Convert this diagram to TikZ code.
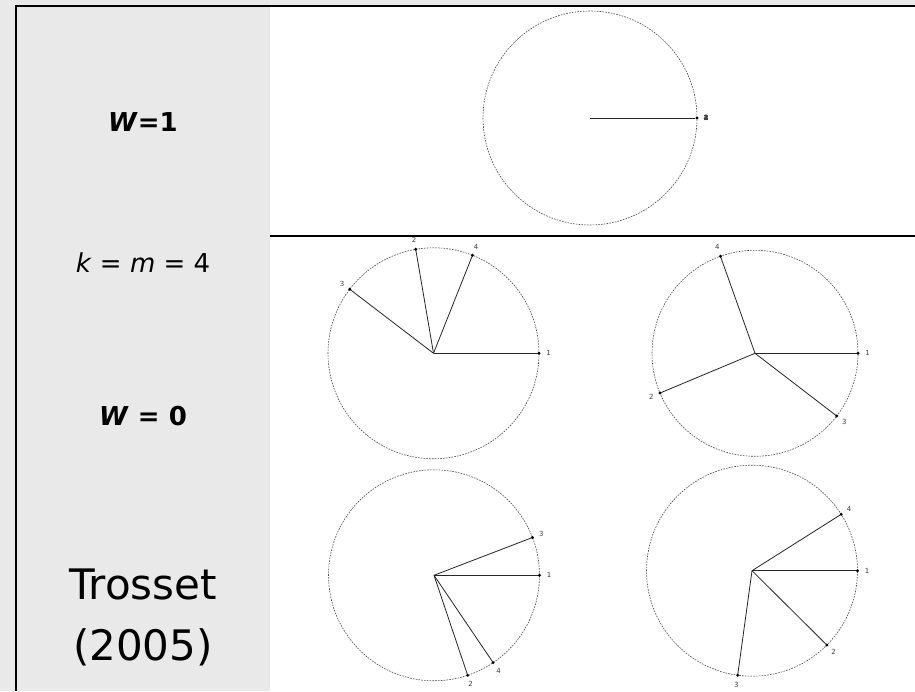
\documentclass[tikz,border=0pt]{standalone}
\usepackage{fontspec}
\setmainfont{DejaVu Sans}
\usepackage{xcolor}
\usepackage{tikz}
\usetikzlibrary{calc, positioning}
\definecolor{panelgray}{RGB}{233, 233, 233}
\definecolor{rimgray}{RGB}{70, 70, 70}

\begin{document}
\begin{tikzpicture}[
        x=1pt, y=1pt,
        rim/.style={draw=rimgray, dash pattern=on 1.6pt off 1.2pt, line width=0.6pt},
        spoke/.style={draw=black!85, line width=0.8pt},
        pt/.style={circle, fill=black, inner sep=0pt, minimum size=3.2pt},
        num/.style={font=\fontsize{7}{8}\selectfont, text=black!75, inner sep=0pt},
        tag/.style={anchor=base, inner sep=0pt, font=\fontsize{26}{30}\selectfont},
        bigtag/.style={anchor=base, inner sep=0pt, font=\fontsize{42}{50}\selectfont},
    ]
        \useasboundingbox (0,0) rectangle (915,691);
        % panels
        \fill[panelgray] (0,0) rectangle (915,691);
        \fill[white] (270,0) rectangle (915,684);
        \draw[line width=2pt] (15,685) -- (915,685);
        \draw[line width=2pt] (16,686) -- (16,0);
        \draw[line width=2.3pt] (270,455) -- (915,455);

        % left column labels
        \node[tag] (wone) at (143,559.5) {\textbf{\textit{W}=1}};
        \node[tag] (km) at (143,418.7) {\textit{k} = \textit{m} = 4};
        \node[tag] (wzero) at (143,265) {\textbf{\textit{W} = 0}};
        \node[bigtag] (author) at (143,91.7) {Trosset};
        \node[bigtag] (year) at (143,31) {(2005)};

        % W=1: all points coincide
        \coordinate (c0) at (590,573);
        \draw[rim] (c0) circle[radius=107];
        \node[pt] (p0) at ($(c0)+(0:107)$) {};
        \draw[spoke] (c0) -- (p0);
        \foreach \n in {1,...,4}
            \node[num, font=\fontsize{7}{8}\selectfont\bfseries] (n0\n) at ($(c0)+(0:116)$) {\n};

        % W=0, upper left
        \coordinate (c1) at (433.5,337.7);
        \draw[rim] (c1) circle[radius=105.5];
        \foreach \a/\n in {0/1, 99.7/2, 142.6/3, 68.3/4} {
            \draw[spoke] (c1) -- ($(c1)+(\a:105.5)$) node[pt] (p1\n) {};
            \node[num] (n1\n) at ($(c1)+(\a:115)$) {\n};
        }

        % W=0, upper right
        \coordinate (c2) at (755,337.7);
        \draw[rim] (c2) circle[radius=103];
        \foreach \a/\n in {0/1, 202.7/2, -37.5/3, 109.6/4} {
            \draw[spoke] (c2) -- ($(c2)+(\a:103)$) node[pt] (p2\n) {};
            \node[num] (n2\n) at ($(c2)+(\a:112.5)$) {\n};
        }

        % W=0, lower left
        \coordinate (c3) at (434,115.7);
        \draw[rim] (c3) circle[radius=105.5];
        \foreach \a/\n in {0/1, -71.4/2, 21/3, -55.9/4} {
            \draw[spoke] (c3) -- ($(c3)+(\a:105.5)$) node[pt] (p3\n) {};
            \node[num] (n3\n) at ($(c3)+(\a:115)$) {\n};
        }

        % W=0, lower right
        \coordinate (c4) at (752,120.3);
        \draw[rim] (c4) circle[radius=105.5];
        \foreach \a/\n in {0/1, -44.8/2, -97.8/3, 32.3/4} {
            \draw[spoke] (c4) -- ($(c4)+(\a:105.5)$) node[pt] (p4\n) {};
            \node[num] (n4\n) at ($(c4)+(\a:115)$) {\n};
        }
    \end{tikzpicture}
\end{document}
